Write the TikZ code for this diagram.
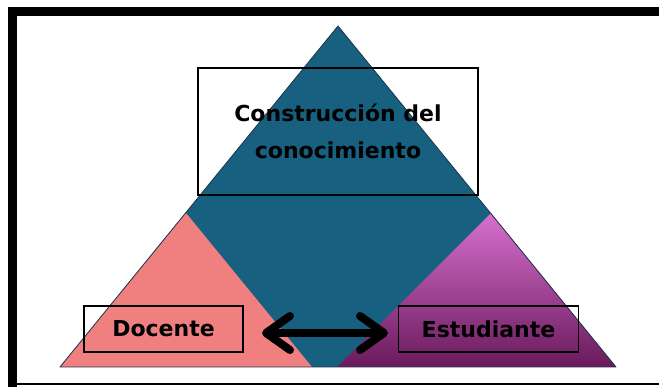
\documentclass[tikz,border=0pt]{standalone}
\usepackage{fontspec}
\setmainfont{DejaVu Sans}
\usetikzlibrary{arrows.meta,positioning}
\definecolor{deepblue}{RGB}{23,96,128}
\definecolor{edgeblue}{RGB}{30,52,72}
\definecolor{salmon}{RGB}{240,128,128}
\definecolor{orchidtop}{RGB}{214,112,206}
\definecolor{orchidmid}{RGB}{160,42,148}
\definecolor{orchidbot}{RGB}{106,26,92}
\tikzstyle{box}=[rectangle,draw=black,line width=1.5pt,inner sep=0pt,text centered,font=\bfseries\fontsize{22}{37}\selectfont]
\tikzstyle{outline}=[draw=edgeblue,line width=0.8pt,line join=round]
\tikzstyle{both ways}=[{Straight Barb[length=24pt,width=34pt,round]}-{Straight Barb[length=24pt,width=34pt,round]},line width=8pt]

\begin{document}
\begin{tikzpicture}[x=1pt,y=-1pt]
\useasboundingbox (0,0) rectangle (659,387);

% frame
\draw [line width=9pt] (12.3,400) -- (12.3,11.5) -- (700,11.5) ;
\draw [line width=2pt] (8,384.5) -- (700,384.5) ;

% triangles
\coordinate (apex) at (338,26) ;
\coordinate (left) at (60,367) ;
\coordinate (right) at (616,367) ;
\fill [deepblue] (apex) -- (left) -- (right) -- cycle ;
\fill [salmon] (186,213) -- (left) -- (312,367) -- cycle ;
\shade [top color=orchidtop,middle color=orchidmid,bottom color=orchidbot] (491,213) -- (337,367) -- (right) -- cycle ;
\draw [outline] (apex) -- (left) -- (right) -- cycle ;

% labels
\node (conoc) [box,minimum width=280pt,minimum height=127pt,align=center] at (338,131.5) {Construcción del\\conocimiento} ;
\node (doc) [box,minimum width=159pt,minimum height=46pt] at (163.5,329) {Docente} ;
\node (est) [box,minimum width=180pt,minimum height=46pt,right=154pt of doc] {Estudiante} ;

\coordinate (al) at (262,333) ;
\coordinate (ar) at (388,333) ;
\draw [both ways] (al) -- (ar) ;

\end{tikzpicture}
\end{document}
